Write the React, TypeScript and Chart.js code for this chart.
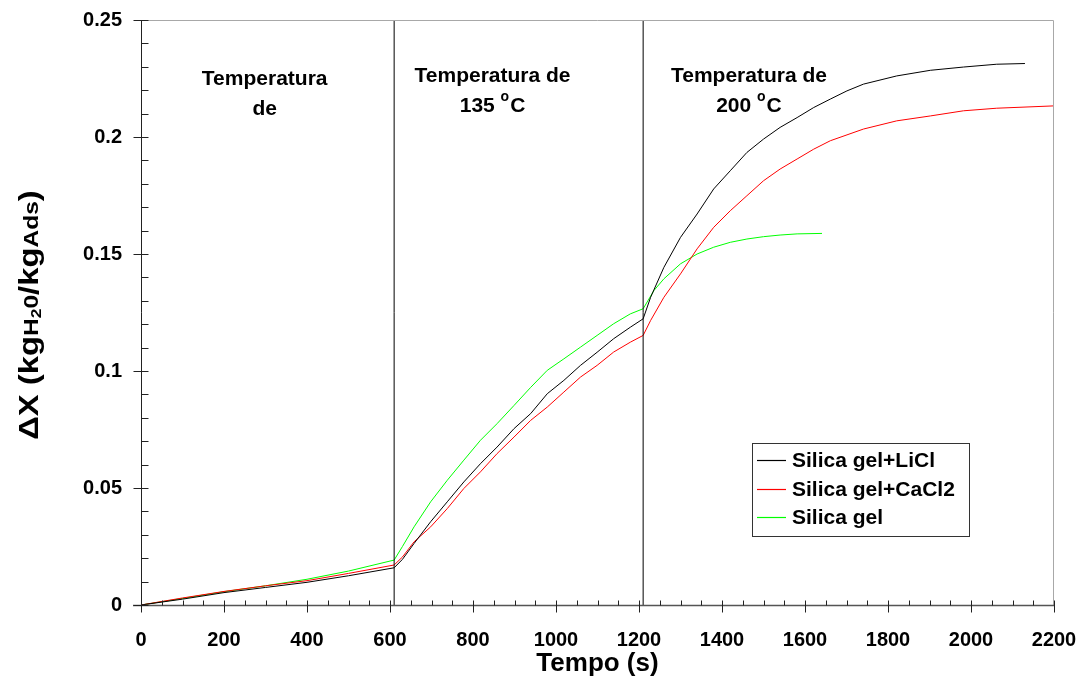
import React, { useEffect, useRef } from "react";
import { Chart, registerables } from "chart.js";

Chart.register(...registerables);

// ---- data ----
const xTicks = [0, 200, 400, 600, 800, 1000, 1200, 1400, 1600, 1800, 2000, 2200];
const xTickLabels = ["0", "200", "400", "600", "800", "1000", "1200", "1400", "1600", "1800", "2000", "2200"];
const yTicks = [0, 0.05, 0.1, 0.15, 0.2, 0.25];
const yTickLabels = ["0", "0.05", "0.1", "0.15", "0.2", "0.25"];

const seriesNames = ["Silica gel+LiCl", "Silica gel+CaCl2", "Silica gel"];
const seriesColors = ["#000000", "#ff0000", "#00ff00"];

const timeLiCl = [0, 100, 200, 300, 400, 500, 610, 630, 658, 698, 738, 778, 818, 858, 899, 939, 979, 1019, 1059, 1099, 1139, 1179, 1210, 1228, 1260, 1300, 1340, 1380, 1420, 1460, 1500, 1540, 1581, 1621, 1661, 1701, 1741, 1821, 1902, 1982, 2062, 2130];
const valLiCl = [0, 0.0025, 0.0053, 0.0075, 0.0097, 0.0125, 0.0159, 0.0195, 0.0263, 0.0356, 0.0441, 0.0526, 0.0604, 0.0675, 0.0754, 0.0818, 0.0903, 0.096, 0.1024, 0.108, 0.1138, 0.1187, 0.1223, 0.1315, 0.1443, 0.1571, 0.1671, 0.1778, 0.1856, 0.1934, 0.1991, 0.2041, 0.2083, 0.2126, 0.2162, 0.2197, 0.2226, 0.2261, 0.2285, 0.2299, 0.2311, 0.2314];

const timeCaCl2 = [0, 100, 200, 300, 400, 500, 610, 630, 658, 698, 738, 778, 818, 858, 899, 939, 979, 1019, 1059, 1099, 1139, 1179, 1210, 1228, 1260, 1300, 1340, 1380, 1420, 1460, 1500, 1540, 1581, 1621, 1661, 1741, 1821, 1902, 1982, 2062, 2200];
const valCaCl2 = [0, 0.003, 0.0058, 0.0082, 0.0104, 0.0135, 0.0171, 0.0205, 0.027, 0.0334, 0.0412, 0.0498, 0.0569, 0.0647, 0.0718, 0.0789, 0.0846, 0.091, 0.0974, 0.1024, 0.1081, 0.1123, 0.1152, 0.1216, 0.1315, 0.1415, 0.1522, 0.1614, 0.1685, 0.1749, 0.1813, 0.1863, 0.1906, 0.1948, 0.1984, 0.2034, 0.2069, 0.209, 0.2112, 0.2123, 0.2133];

const timeSilica = [0, 100, 200, 300, 400, 500, 610, 630, 658, 698, 738, 778, 818, 858, 899, 939, 979, 1019, 1059, 1099, 1139, 1179, 1210, 1236, 1260, 1300, 1340, 1380, 1420, 1460, 1500, 1540, 1581, 1641];
const valSilica = [0, 0.0028, 0.0057, 0.0082, 0.011, 0.0145, 0.0192, 0.025, 0.0334, 0.0441, 0.0533, 0.0619, 0.0704, 0.0775, 0.0853, 0.093, 0.1003, 0.1052, 0.1102, 0.1152, 0.1202, 0.1244, 0.1266, 0.1344, 0.1394, 0.1458, 0.15, 0.1529, 0.155, 0.1564, 0.1574, 0.1581, 0.1586, 0.1588];

const phaseBoundaries = [610, 1210];
const phaseLabelX = [298, 847, 1465];
const phaseLabelLine1 = ["Temperatura", "Temperatura de", "Temperatura de"];
const phaseLabelLine2 = ["de", "135 °C", "200 °C"];

const xTitle = "Tempo (s)";
const FONT = "'Liberation Sans', Arial, Helvetica, sans-serif";

function drawTextWithDegree(ctx: CanvasRenderingContext2D, text: string, cx: number, y: number, size: number) {
  const idx = text.indexOf("°");
  if (idx < 0) {
    ctx.font = `bold ${size}px ${FONT}`;
    ctx.textAlign = "center";
    ctx.fillText(text, cx, y);
    return;
  }
  const before = text.slice(0, idx);
  const after = text.slice(idx + 1);
  const supSize = Math.round(size * 0.68);
  ctx.font = `bold ${size}px ${FONT}`;
  const wb = ctx.measureText(before).width;
  const wa = ctx.measureText(after).width;
  ctx.font = `bold ${supSize}px ${FONT}`;
  const ws = ctx.measureText("o").width;
  const total = wb + ws + wa + 1;
  let x = cx - total / 2;
  ctx.textAlign = "left";
  ctx.font = `bold ${size}px ${FONT}`;
  ctx.fillText(before, x, y);
  x += wb;
  ctx.font = `bold ${supSize}px ${FONT}`;
  ctx.fillText("o", x, y - size * 0.42);
  x += ws + 1;
  ctx.font = `bold ${size}px ${FONT}`;
  ctx.fillText(after, x, y);
}

const decorPlugin = {
  id: "decor",
  afterDraw(chart: any) {
    const ctx: CanvasRenderingContext2D = chart.ctx;
    const xs = chart.scales.x;
    const ys = chart.scales.y;
    const ca = chart.chartArea;
    ctx.save();

    // plot frame (top / right)
    ctx.strokeStyle = "#a8a8a8";
    ctx.lineWidth = 1;
    ctx.beginPath();
    ctx.moveTo(ca.left, Math.round(ca.top) + 0.5);
    ctx.lineTo(Math.round(ca.right) - 0.5, Math.round(ca.top) + 0.5);
    ctx.lineTo(Math.round(ca.right) - 0.5, ca.bottom);
    ctx.stroke();

    const x0 = Math.round(ca.left) + 0.5;
    const y0 = Math.round(ca.bottom) + 0.5;

    // axes
    ctx.strokeStyle = "#222";
    ctx.lineWidth = 1;
    ctx.beginPath();
    ctx.moveTo(x0, ca.top);
    ctx.lineTo(x0, y0);
    ctx.stroke();
    ctx.strokeStyle = "#555";
    ctx.lineWidth = 1.6;
    ctx.beginPath();
    ctx.moveTo(ca.left - 8, y0);
    ctx.lineTo(ca.right, y0);
    ctx.stroke();

    // y ticks
    ctx.strokeStyle = "#222";
    ctx.lineWidth = 1;
    ctx.beginPath();
    for (let i = 0; i <= 25; i++) {
      const py = Math.round(ys.getPixelForValue(i / 100)) + 0.5;
      if (i % 5 === 0) {
        ctx.moveTo(x0 - 8, py);
        ctx.lineTo(x0 + 7, py);
      } else {
        ctx.moveTo(x0, py);
        ctx.lineTo(x0 + 7, py);
      }
    }
    // x ticks
    for (let i = 0; i <= 44; i++) {
      const px = Math.round(xs.getPixelForValue(i * 50)) + 0.5;
      if (i % 4 === 0) {
        ctx.moveTo(px, y0 + 7);
        ctx.lineTo(px, y0 - 5);
      } else {
        ctx.moveTo(px, y0);
        ctx.lineTo(px, y0 - 5);
      }
    }
    ctx.stroke();

    // phase annotations
    ctx.fillStyle = "#000";
    ctx.textBaseline = "middle";
    for (let i = 0; i < phaseLabelX.length; i++) {
      const cx = xs.getPixelForValue(phaseLabelX[i]);
      const yTop = i === 0 ? 79 : 76;
      drawTextWithDegree(ctx, phaseLabelLine1[i], cx, yTop, 21);
      drawTextWithDegree(ctx, phaseLabelLine2[i], cx, yTop + 30, 21);
    }

    // legend
    const lx = 752, ly = 443, lw = 217, lh = 93;
    ctx.fillStyle = "#fff";
    ctx.fillRect(lx, ly, lw, lh);
    ctx.strokeStyle = "#333";
    ctx.lineWidth = 1;
    ctx.strokeRect(lx + 0.5, ly + 0.5, lw, lh);
    ctx.font = `bold 21px ${FONT}`;
    ctx.textAlign = "left";
    ctx.textBaseline = "middle";
    for (let i = 0; i < seriesNames.length; i++) {
      const ry = Math.round(ly + 17 + i * 28.5) + 0.5;
      ctx.strokeStyle = seriesColors[i];
      ctx.lineWidth = 1.2;
      ctx.beginPath();
      ctx.moveTo(lx + 5, ry);
      ctx.lineTo(lx + 34, ry);
      ctx.stroke();
      ctx.fillStyle = "#000";
      ctx.fillText(seriesNames[i], lx + 40, ry + 1);
    }

    // x title
    ctx.fillStyle = "#000";
    ctx.font = `bold 26px ${FONT}`;
    ctx.textAlign = "center";
    ctx.textBaseline = "alphabetic";
    ctx.fillText(xTitle, (ca.left + ca.right) / 2, 671);

    // y title with subscript parts
    const parts = [
      { t: "ΔX (kg", s: 28, dy: 0 },
      { t: "H", s: 21, dy: 0 },
      { t: "2", s: 15, dy: 3 },
      { t: "0", s: 21, dy: 0 },
      { t: "/kg", s: 28, dy: 0 },
      { t: "Ads", s: 21, dy: 0 },
      { t: ")", s: 28, dy: 0 },
    ];
    let total = 0;
    for (const p of parts) {
      ctx.font = `bold ${p.s}px ${FONT}`;
      total += ctx.measureText(p.t).width;
    }
    const stretch = 1.17;
    ctx.translate(28, 315);
    ctx.rotate(-Math.PI / 2);
    ctx.scale(stretch, 1);
    ctx.textAlign = "left";
    let x = -total / 2;
    for (const p of parts) {
      ctx.font = `bold ${p.s}px ${FONT}`;
      ctx.fillText(p.t, x, 10 + p.dy);
      x += ctx.measureText(p.t).width;
    }
    ctx.restore();
  },
};

function findLabel(values: number[], labels: string[], v: number) {
  for (let i = 0; i < values.length; i++) {
    if (Math.abs(values[i] - v) < 1e-9) return labels[i];
  }
  return "";
}

function zeroPadding(s: any) {
  s.paddingLeft = 0;
  s.paddingRight = 0;
  s.paddingTop = 0;
  s.paddingBottom = 0;
}

export default function App() {
  const canvasRef = useRef<HTMLCanvasElement | null>(null);

  useEffect(() => {
    document.body.style.margin = "0";
    const canvas = canvasRef.current;
    if (!canvas) return;

    const mk = (ts: number[], vs: number[]) => ts.map((t, i) => ({ x: t, y: vs[i] }));
    const seriesData = [mk(timeLiCl, valLiCl), mk(timeCaCl2, valCaCl2), mk(timeSilica, valSilica)];

    const datasets: any[] = phaseBoundaries.map((b) => ({
      label: "",
      data: [
        { x: b, y: yTicks[0] },
        { x: b, y: yTicks[yTicks.length - 1] },
      ],
      borderColor: "#000",
      borderWidth: 1,
      pointRadius: 0,
      fill: false,
    }));
    seriesNames.forEach((name, i) => {
      datasets.push({
        label: name,
        data: seriesData[i],
        borderColor: seriesColors[i],
        borderWidth: 1,
        pointRadius: 0,
        tension: 0,
        fill: false,
      });
    });

    const chart = new Chart(canvas, {
      type: "line",
      data: { datasets },
      options: {
        animation: false,
        responsive: false,
        devicePixelRatio: 1,
        layout: { padding: { top: 20, right: 25, left: 0, bottom: 0 } },
        plugins: { legend: { display: false }, tooltip: { enabled: false } },
        scales: {
          x: {
            type: "linear",
            min: xTicks[0],
            max: xTicks[xTicks.length - 1],
            grid: { display: false, drawTicks: false },
            border: { display: false },
            afterBuildTicks: (s: any) => {
              s.ticks = xTicks.map((v) => ({ value: v }));
            },
            afterFit: (s: any) => {
              s.height = 72;
              zeroPadding(s);
            },
            ticks: {
              autoSkip: false,
              maxRotation: 0,
              padding: 23,
              color: "#000",
              font: { family: FONT, size: 20, weight: "bold" },
              callback: (v: any) => findLabel(xTicks, xTickLabels, Number(v)),
            },
          },
          y: {
            type: "linear",
            min: yTicks[0],
            max: yTicks[yTicks.length - 1],
            grid: { display: false, drawTicks: false },
            border: { display: false },
            afterBuildTicks: (s: any) => {
              s.ticks = yTicks.map((v) => ({ value: v }));
            },
            afterFit: (s: any) => {
              s.width = 141;
              zeroPadding(s);
            },
            ticks: {
              autoSkip: false,
              padding: 19,
              color: "#000",
              font: { family: FONT, size: 20, weight: "bold" },
              callback: (v: any) => findLabel(yTicks, yTickLabels, Number(v)),
            },
          },
        },
      },
      plugins: [decorPlugin],
    } as any);

    return () => chart.destroy();
  }, []);

  return (
    <div style={{ width: 1079, height: 677, background: "#fff" }}>
      <canvas ref={canvasRef} width={1079} height={677} style={{ display: "block" }} />
    </div>
  );
}
